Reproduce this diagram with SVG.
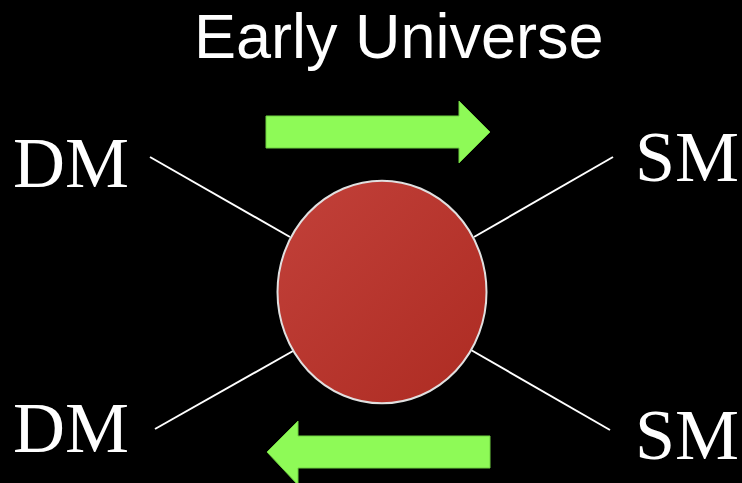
<svg xmlns="http://www.w3.org/2000/svg" width="742" height="483" viewBox="0 0 742 483">
<defs>
<style>
.lbl{font-family:"Liberation Serif","Times New Roman",serif;font-size:72px;fill:#fff}
.ttl{font-family:"Liberation Sans",Arial,sans-serif;font-size:63px;fill:#fff}
.conn{stroke:#fff;stroke-width:2;fill:none}
.arr{fill:#8efa57;stroke:#6fd040;stroke-width:1}
</style>
<linearGradient id="g" x1="0" y1="0" x2="1" y2="1">
<stop offset="0" stop-color="#c2413a"/>
<stop offset="1" stop-color="#ad2b22"/>
</linearGradient>
</defs>
<rect width="742" height="483" fill="#000"/>
<text class="ttl" x="194" y="58">Early Universe</text>
<g id="connectors">
<line class="conn" x1="150" y1="157" x2="290" y2="237"/>
<line class="conn" x1="474" y1="237" x2="613" y2="157"/>
<line class="conn" x1="155" y1="429" x2="293" y2="351"/>
<line class="conn" x1="471" y1="350" x2="610" y2="430"/>
</g>
<g id="blob">
<ellipse cx="382" cy="292" rx="104.5" ry="111.3" fill="url(#g)" stroke="#e0e0e0" stroke-width="2"/>
</g>
<g id="arrow-forward">
<polygon class="arr" points="266,116 459,116 459,101 490,132 459,163 459,148 266,148"/>
</g>
<g id="arrow-backward">
<polygon class="arr" points="490,436 298,436 298,421 267,452 298,485 298,468 490,468"/>
</g>
<g id="dm-top"><text class="lbl" x="13" y="187">DM</text></g>
<g id="dm-bottom"><text class="lbl" x="13" y="452">DM</text></g>
<g id="sm-top"><text class="lbl" x="635" y="181">SM</text></g>
<g id="sm-bottom"><text class="lbl" x="635" y="459">SM</text></g>
</svg>
